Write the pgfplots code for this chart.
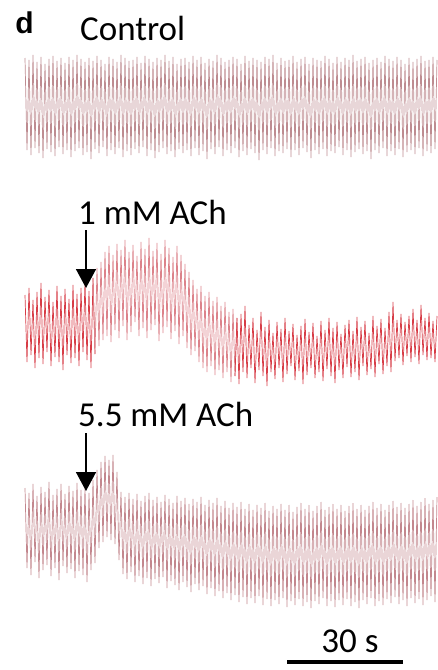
\documentclass[border=0pt]{standalone}
\usepackage{fontspec}
\setmainfont{Carlito}
\newfontfamily\dfont{Liberation Sans}
\usepackage{pgfplots}
\pgfplotsset{compat=1.18}
\usetikzlibrary{arrows.meta}
\definecolor{ctrl}{RGB}{190,140,145}
\definecolor{achred}{RGB}{215,60,70}
\definecolor{achpink}{RGB}{220,130,138}
\definecolor{hipink}{RGB}{195,135,142}
\begin{document}
\begin{tikzpicture}
\begin{axis}[
  width=438pt, height=670pt, scale only axis,
  xmin=0, xmax=438, ymin=0, ymax=670, y dir=reverse,
  hide axis, clip=false,
]
\path (axis cs:0,0) rectangle (axis cs:438,670);
% Control
\addplot[ctrl, line width=0.7pt, line join=bevel] coordinates {
(25,58)(27,150)(29,60)(31,155)(33,55)(35,148)(37,62)(39,153)(41,57)(43,158)(45,64)(47,149)(49,59)(51,152)(53,56)(55,156)(57,61)(59,147)(61,58)(63,154)(65,63)(67,150)(69,57)(71,157)(73,60)(75,151)(77,55)(79,148)(81,59)(83,155)(85,62)(87,152)(89,58)(91,159)(93,61)(95,149)(97,56)(99,153)(101,60)(103,147)(105,64)(107,156)(109,57)(111,150)(113,59)(115,154)(117,62)(119,148)(121,55)(123,157)(125,58)(127,151)(129,61)(131,155)(133,60)(135,149)(137,57)(139,153)(141,63)(143,147)(145,56)(147,156)(149,59)(151,150)(153,62)(155,158)(157,58)(159,152)(161,60)(163,148)(165,55)(167,154)(169,61)(171,151)(173,57)(175,157)(177,64)(179,149)(181,59)(183,153)(185,58)(187,150)(189,62)(191,156)(193,56)(195,148)(197,60)(199,155)(201,57)(203,151)(205,63)(207,159)(209,59)(211,149)(213,61)(215,154)(217,55)(219,147)(221,58)(223,156)(225,62)(227,150)(229,60)(231,153)(233,57)(235,148)(237,59)(239,157)(241,64)(243,151)(245,56)(247,155)(249,61)(251,149)(253,58)(255,153)(257,60)(259,160)(261,62)(263,150)(265,57)(267,154)(269,59)(271,148)(273,55)(275,156)(277,63)(279,151)(281,58)(283,153)(285,61)(287,149)(289,60)(291,157)(293,56)(295,150)(297,62)(299,155)(301,59)(303,148)(305,57)(307,152)(309,64)(311,158)(313,58)(315,150)(317,60)(319,154)(321,61)(323,149)(325,56)(327,156)(329,59)(331,151)(333,63)(335,153)(337,57)(339,147)(341,62)(343,155)(345,58)(347,150)(349,60)(351,157)(353,55)(355,152)(357,61)(359,149)(361,59)(363,154)(365,57)(367,151)(369,63)(371,159)(373,60)(375,150)(377,58)(379,153)(381,62)(383,148)(385,56)(387,156)(389,59)(391,151)(393,61)(395,155)(397,57)(399,149)(401,60)(403,157)(405,64)(407,152)(409,58)(411,150)(413,62)(415,154)(417,59)(419,148)(421,56)(423,156)(425,61)(427,151)(429,60)(431,153)(433,57)(435,149)(437,60)
};
% 1 mM ACh
\addplot[achred, line width=0.7pt, line join=bevel] coordinates {
(25,295)(27,362)(29,288)(31,355)(33,300)(35,368)(37,292)(39,358)(41,283)(43,364)(45,297)(47,352)(49,290)(51,366)(53,302)(55,357)(57,286)(59,362)(61,296)(63,370)(65,289)(67,355)(69,299)(71,363)(73,285)(75,358)(77,294)(79,366)(81,288)(83,352)(85,282)(87,360)(89,291)(91,368)(93,278)(95,354)
};
\addplot[achpink, line width=0.7pt, line join=bevel] coordinates {
(93,278)(95,354)(97,268)(99,346)(101,262)(103,340)(105,252)(107,336)(109,246)(111,342)(113,255)(115,330)(117,244)(119,338)(121,250)(123,326)(125,240)(127,340)(129,252)(131,332)(133,245)(135,322)(137,256)(139,336)(141,242)(143,328)(145,249)(147,338)(149,238)(151,330)(153,251)(155,325)(157,243)(159,341)(161,254)(163,333)(165,240)(167,327)(169,248)(171,339)(173,257)(175,331)(177,246)(179,344)(181,255)(183,336)(185,264)(187,348)(189,272)(191,355)(193,280)(195,351)(197,289)(199,362)(201,286)(203,368)(205,296)(207,372)(209,292)(211,366)(213,301)(215,375)(217,297)(219,370)(221,306)(223,378)(225,302)(227,372)(229,312)(231,382)(233,309)(235,376)(237,318)
};
\addplot[achred, line width=0.7pt, line join=bevel] coordinates {
(235,376)(237,318)(239,384)(241,314)(243,372)(245,306)(247,378)(249,325)(251,368)(253,318)(255,383)(257,330)(259,370)(261,312)(263,376)(265,327)(267,386)(269,320)(271,372)(273,333)(275,379)(277,322)(279,368)(281,329)(283,382)(285,318)(287,374)(289,331)(291,366)(293,324)(295,380)(297,335)(299,371)(301,326)(303,384)(305,319)(307,375)(309,332)(311,368)(313,323)(315,378)(317,336)(319,372)(321,321)(323,381)(325,330)(327,369)(329,318)(331,376)(333,328)(335,383)(337,322)(339,370)(341,334)(343,378)(345,325)(347,367)(349,320)(351,377)(353,331)(355,372)(357,317)(359,380)(361,327)(363,366)(365,321)(367,375)(369,333)(371,369)(373,316)(375,377)(377,326)(379,364)(381,319)(383,374)(385,328)(387,366)(389,312)(391,372)(393,302)(395,361)(397,320)(399,358)(401,314)(403,365)(405,322)(407,356)(409,316)(411,362)(413,309)(415,357)(417,320)(419,364)(421,305)(423,355)(425,318)(427,360)(429,313)(431,358)(433,321)(435,362)(437,316)
};
% 5.5 mM ACh
\addplot[hipink, line width=0.7pt, line join=bevel] coordinates {
(25,488)(27,568)(29,493)(31,575)(33,484)(35,562)(37,496)(39,578)(41,487)(43,570)(45,492)(47,565)(49,482)(51,576)(53,495)(55,568)(57,489)(59,580)(61,484)(63,566)(65,494)(67,573)(69,486)(71,569)(73,491)(75,578)(77,483)(79,571)(81,490)(83,575)(85,487)(87,582)(89,493)(91,570)(93,480)(95,563)(97,470)(99,548)(101,462)(103,542)(105,456)(107,537)(109,460)(111,540)(113,455)(115,544)(117,472)(119,560)(121,492)(123,574)(125,497)(127,579)(129,493)(131,572)(133,499)(135,582)(137,494)(139,576)(141,501)(143,584)(145,496)(147,578)(149,493)(151,586)(153,500)(155,579)(157,497)(159,583)(161,502)(163,577)(165,495)(167,588)(169,499)(171,581)(173,503)(175,585)(177,496)(179,590)(181,501)(183,582)(185,498)(187,587)(189,504)(191,592)(193,499)(195,584)(197,502)(199,590)(201,497)(203,586)(205,505)(207,594)(209,500)(211,588)(213,503)(215,596)(217,498)(219,591)(221,506)(223,598)(225,501)(227,593)(229,508)(231,600)(233,503)(235,595)(237,507)(239,602)(241,502)(243,597)(245,509)(247,604)(249,504)(251,598)(253,510)(255,603)(257,505)(259,596)(261,508)(263,605)(265,503)(267,599)(269,511)(271,606)(273,506)(275,600)(277,509)(279,604)(281,504)(283,598)(285,510)(287,607)(289,505)(291,601)(293,512)(295,605)(297,507)(299,599)(301,503)(303,606)(305,509)(307,602)(309,505)(311,608)(313,511)(315,601)(317,506)(319,604)(321,502)(323,598)(325,510)(327,606)(329,507)(331,601)(333,504)(335,607)(337,509)(339,600)(341,505)(343,605)(345,511)(347,599)(349,506)(351,606)(353,503)(355,602)(357,509)(359,608)(361,505)(363,600)(365,510)(367,604)(369,506)(371,598)(373,502)(375,606)(377,508)(379,601)(381,504)(383,605)(385,510)(387,599)(389,505)(391,603)(393,501)(395,597)(397,507)(399,604)(401,503)(403,600)(405,508)(407,606)(409,504)(411,598)(413,500)(415,603)(417,506)(419,599)(421,502)(423,605)(425,498)(427,600)(429,504)(431,596)(433,500)(435,602)(437,497)
};
% arrows
\addplot[black, line width=1.6pt, -{Triangle[width=20pt,length=19pt]}] coordinates {(86,230)(86,288)};
\addplot[black, line width=1.6pt, -{Triangle[width=20pt,length=19pt]}] coordinates {(86,433)(86,491)};
% scale bar
\addplot[black, line width=4pt] coordinates {(287,662)(403,662)};
% labels
\node[anchor=base west, inner sep=0pt, scale=3, line width=0.25pt] at (axis cs:15,33) {\dfont\bfseries d};
\node[anchor=base west, inner sep=0pt] at (axis cs:80,40) {\fontsize{35}{40}\selectfont Control};
\node[anchor=base west, inner sep=0pt] at (axis cs:78,224) {\fontsize{35}{40}\selectfont 1 mM ACh};
\node[anchor=base west, inner sep=0pt] at (axis cs:78,426) {\fontsize{35}{40}\selectfont 5.5 mM ACh};
\node[anchor=base, inner sep=0pt] at (axis cs:350,652) {\fontsize{35}{40}\selectfont 30 s};
\end{axis}
\end{tikzpicture}
\end{document}
